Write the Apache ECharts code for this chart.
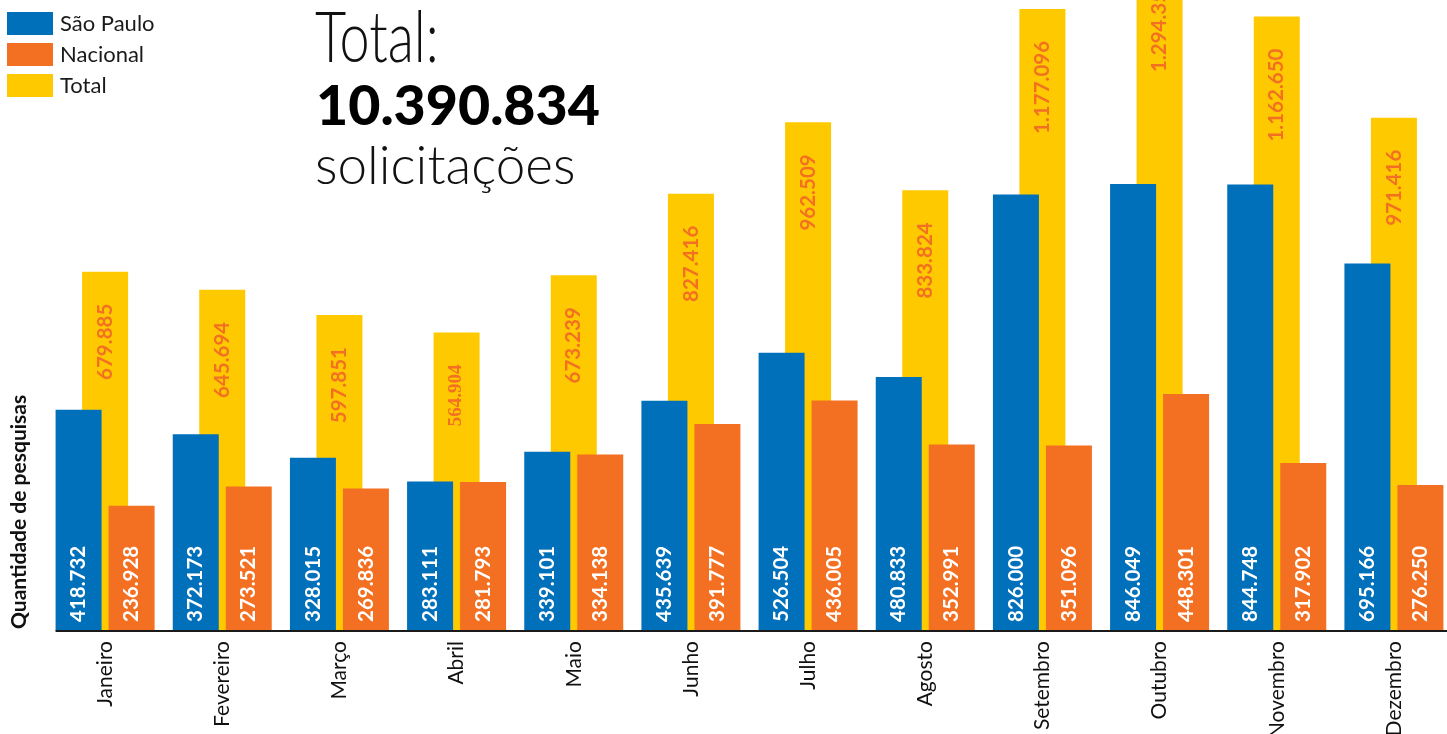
<!DOCTYPE html>
<html>
<head>
<meta charset="utf-8">
<script src="https://cdn.jsdelivr.net/npm/echarts@6/dist/echarts.min.js"></script>
<style>
  html, body { margin: 0; padding: 0; background: #fff; }
  #chart { width: 1447px; height: 734px; }
</style>
</head>
<body>
<div id="chart"></div>
<script>
// Monthly search requests: São Paulo, Nacional and the monthly total
const months = ['Janeiro', 'Fevereiro', 'Março', 'Abril', 'Maio', 'Junho',
  'Julho', 'Agosto', 'Setembro', 'Outubro', 'Novembro', 'Dezembro'];
const saoPaulo = [418732, 372173, 328015, 283111, 339101, 435639,
  526504, 480833, 826000, 846049, 844748, 695166];
const nacional = [236928, 273521, 269836, 281793, 334138, 391777,
  436005, 352991, 351096, 448301, 317902, 276250];
const totals = [679885, 645694, 597851, 564904, 673239, 827416,
  962509, 833824, 1177096, 1294350, 1162650, 971416];
const grandTotal = '10.390.834';

const BLUE = '#0070BA';
const ORANGE = '#F37022';
const YELLOW = '#FFC900';
const BAR_W = 46;
const GAP = 7;

const fmt = v => String(v).replace(/\B(?=(\d{3})+(?!\d))/g, '.');

const chart = echarts.init(document.getElementById('chart'), null, { renderer: 'canvas' });

const innerLabel = {
  show: true,
  position: 'insideBottom',
  rotate: 90,
  align: 'left',
  verticalAlign: 'middle',
  distance: 9,
  color: '#fff',
  fontFamily: 'Lato',
  fontWeight: 'bold',
  fontSize: 20.5,
  formatter: p => fmt(p.value)
};

const totalData = totals.map((v, i) => months[i] === 'Abril'
  ? { value: v, label: { fontFamily: 'Liberation Sans Narrow', fontSize: 19 } }
  : v);

chart.setOption({
  animation: false,
  textStyle: { fontFamily: 'Lato' },
  legend: {
    data: ['São Paulo', 'Nacional', 'Total'],
    orient: 'vertical',
    left: 7,
    top: 12,
    padding: 0,
    itemWidth: 46,
    itemHeight: 23,
    itemGap: 8,
    icon: 'rect',
    selectedMode: false,
    textStyle: { fontFamily: 'Lato', fontSize: 22, color: '#1a1a1a', padding: [0, 0, 0, 2] }
  },
  grid: {
    left: 46.5, width: 1406, top: 0, bottom: 103,
    containLabel: false,
    outerBoundsMode: 'none'
  },
  xAxis: [
    {
      type: 'category',
      data: months,
      axisLine: { show: false },
      axisTick: { show: false },
      axisLabel: { rotate: 90, margin: 10, fontFamily: 'Lato', fontSize: 21, color: '#111' }
    },
    { type: 'category', data: months, show: false }
  ],
  yAxis: {
    type: 'value',
    min: 0,
    max: 1194000,
    show: false,
    splitLine: { show: false }
  },
  series: [
    {
      name: 'Total',
      type: 'bar',
      xAxisIndex: 1,
      data: totalData,
      barWidth: BAR_W,
      clip: false,
      z: 1,
      itemStyle: { color: YELLOW },
      label: {
        show: true,
        position: 'insideTop',
        rotate: 90,
        align: 'right',
        verticalAlign: 'middle',
        distance: 32,
        color: ORANGE,
        fontFamily: 'Lato',
        fontWeight: 'bold',
        fontSize: 20.5,
        formatter: p => fmt(p.value)
      }
    },
    {
      name: 'São Paulo',
      type: 'bar',
      data: saoPaulo,
      barWidth: BAR_W,
      barGap: (GAP / BAR_W * 100) + '%',
      z: 3,
      itemStyle: { color: BLUE },
      label: innerLabel
    },
    {
      name: 'Nacional',
      type: 'bar',
      data: nacional,
      barWidth: BAR_W,
      z: 3,
      itemStyle: { color: ORANGE },
      label: innerLabel
    }
  ]
});

// Baseline starting at the first bar, plus headline and axis title
const baseY = chart.convertToPixel({ yAxisIndex: 0 }, 0);
const firstX = chart.convertToPixel({ xAxisIndex: 0 }, months[0]) - (BAR_W * 2 + GAP) / 2;

chart.setOption({
  graphic: [
    {
      type: 'line',
      z: 10,
      shape: { x1: firstX, y1: baseY, x2: 1447, y2: baseY },
      style: { stroke: '#1a1a1a', lineWidth: 2 }
    },
    {
      type: 'text',
      x: 19,
      y: baseY - 2,
      rotation: Math.PI / 2,
      style: {
        text: 'Quantidade de pesquisas',
        font: 'bold 21px Lato',
        fill: '#111',
        textAlign: 'left',
        textVerticalAlign: 'middle'
      }
    },
    {
      type: 'text',
      x: 315,
      y: 4,
      scaleY: 1.31,
      style: { text: 'Total:', font: '300 54px Lato', fill: '#111', textVerticalAlign: 'top' }
    },
    {
      type: 'text',
      x: 316,
      y: 79,
      style: { text: grandTotal, font: '900 55.5px Lato', fill: '#000', textVerticalAlign: 'top' }
    },
    {
      type: 'text',
      x: 315,
      y: 140,
      style: { text: 'solicitações', font: '300 53px Lato', fill: '#111', textVerticalAlign: 'top' }
    }
  ]
});
</script>
</body>
</html>
